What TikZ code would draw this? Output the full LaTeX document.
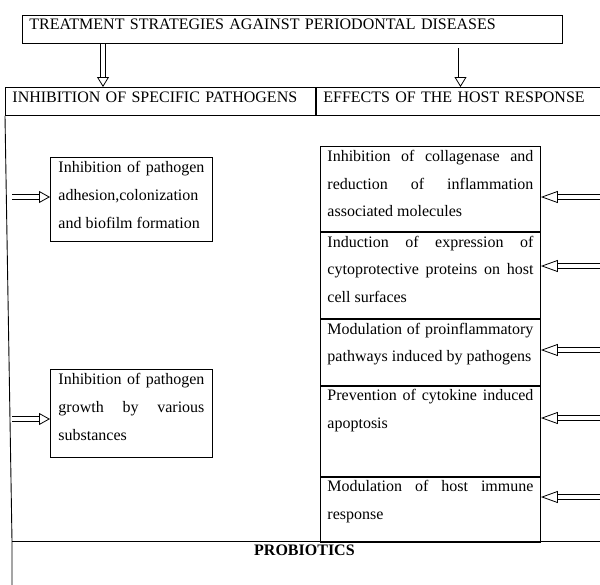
\documentclass[tikz,border=0pt]{standalone}
\usepackage{fontspec}
\setmainfont{Liberation Serif}
\usetikzlibrary{arrows.meta}
\newcommand{\celltext}[3]{\parbox[c][#1][t]{#2}{\fontsize{16}{27.8}\selectfont #3}}

\begin{document}
\begin{tikzpicture}[x=1pt, y=-1pt, line width=0.9pt,
		box/.style={draw, rectangle, anchor=north west, inner xsep=7pt, inner ysep=2pt, font=\fontsize{16}{27.8}\selectfont},
		headbox/.style={box, align=left, text height=13pt, text depth=11pt},
		hollow/.style={line width=0.7pt, double, double distance=4pt, -{Triangle[open, length=#1, width=12pt, line width=0.8pt 0 0]}},
		hollow/.default=11pt]
	\useasboundingbox (0,0) rectangle (600,584);
	\clip (0,0) rectangle (600,584);
	\node [headbox, text width=526pt, text height=12.5pt, text depth=11.5pt] (title) at (22,15) {TREATMENT STRATEGIES AGAINST PERIODONTAL DISEASES};
	\node [headbox, text width=296pt] (hleft) at (5,87) {INHIBITION OF SPECIFIC PATHOGENS};
	\node [headbox, text width=300pt] (hright) at (hleft.north east) {EFFECTS OF THE HOST RESPONSE};
	\node [anchor=north west, minimum width=584pt, inner ysep=2pt, text height=12pt, text depth=40pt, font=\fontsize{16}{20}\selectfont\bfseries] (probiotics) at (12,541) {PROBIOTICS};
	\draw (hleft.south west) -- (probiotics.north west) -- (probiotics.south west);
	\draw (probiotics.north west) -- ++(620,0);
	% pathogen side
	\node [box, inner xsep=8pt, inner ysep=4pt] (lbox1) at (50,157) {\celltext{76pt}{146pt}{Inhibition of pathogen\linebreak adhesion,colonization\linebreak and biofilm formation}};
	\node [box, inner xsep=8pt, inner ysep=4pt] (lbox2) at (50,369) {\celltext{80pt}{146pt}{Inhibition of pathogen\linebreak growth by various\linebreak substances}};
	% host response side
	\node [box, inner ysep=3.5pt] (c1) at (320,146) {\celltext{78pt}{206pt}{Inhibition of collagenase and\linebreak reduction of inflammation\linebreak associated molecules}};
	\node [box, inner ysep=3.5pt] (c2) at (c1.south west) {\celltext{79pt}{206pt}{Induction of expression of\linebreak cytoprotective proteins on host\linebreak cell surfaces}};
	\node [box, inner ysep=3.5pt] (c3) at (c2.south west) {\celltext{59pt}{206pt}{Modulation of proinflammatory\linebreak pathways induced by pathogens}};
	\node [box, inner ysep=3.5pt] (c4) at (c3.south west) {\celltext{83pt}{206pt}{Prevention of cytokine induced\linebreak apoptosis}};
	\node [box, inner ysep=3.5pt] (c5) at (c4.south west) {\celltext{58pt}{206pt}{Modulation of host immune\linebreak response}};
	% arrows
	\coordinate (arrL) at (103,0);
	\coordinate (arrR) at (460.5,48);
	\draw [hollow=10pt] (title.south -| arrL) -- (hleft.north -| arrL);
	\draw [hollow=10pt] (arrR) -- (hright.north -| arrR);
	\coordinate (la1) at (12,197);
	\coordinate (la2) at (12,419);
	\draw [hollow] (la1) -- (la1 -| lbox1.west);
	\draw [hollow] (la2) -- (la2 -| lbox2.west);
	\foreach \y/\c [count=\i] in {197/c1, 266/c2, 350/c3, 418/c4, 497/c5} {
		\coordinate (ra\i) at (606,\y);
		\draw [hollow=17pt] (ra\i) -- (ra\i -| \c.east);
	}
\end{tikzpicture}
\end{document}
